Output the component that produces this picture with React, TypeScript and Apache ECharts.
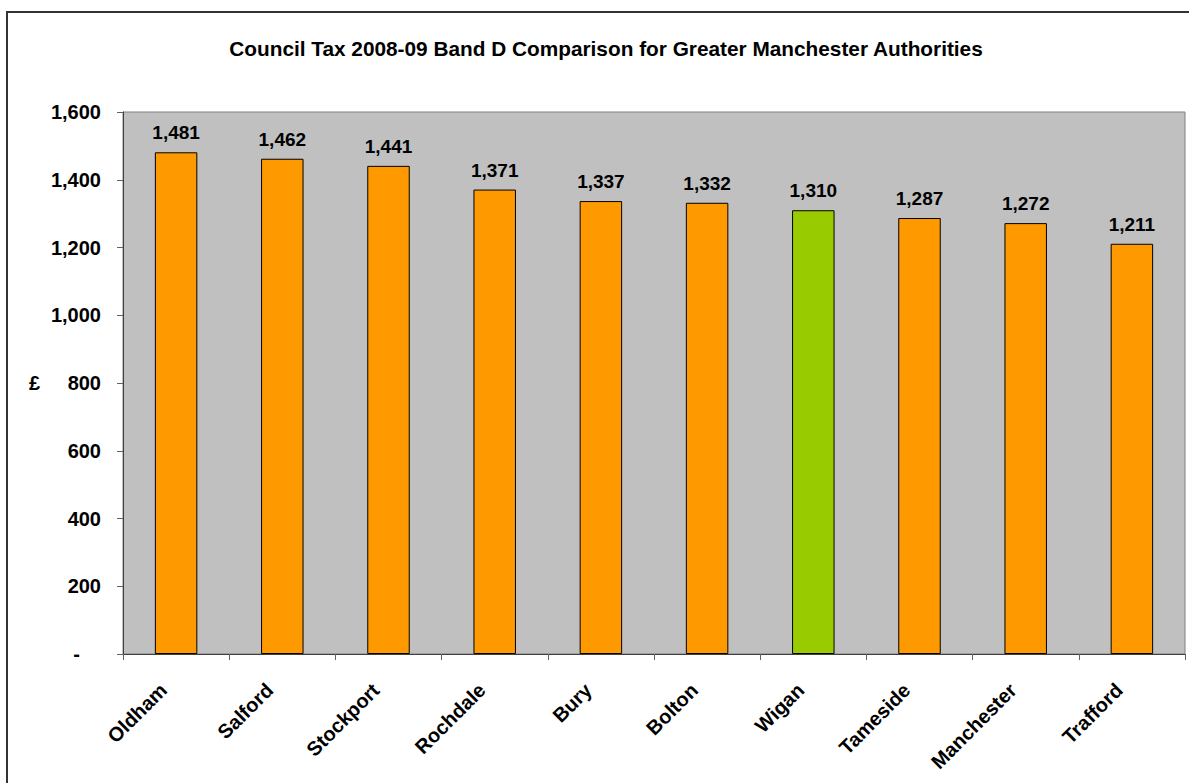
import React, { useEffect, useRef } from "react";
import * as echarts from "echarts";

const categories = ["Oldham", "Salford", "Stockport", "Rochdale", "Bury", "Bolton", "Wigan", "Tameside", "Manchester", "Trafford"];
const values = [1481, 1462, 1441, 1371, 1337, 1332, 1310, 1287, 1272, 1211];
const highlight = "Wigan";
const titleText = "Council Tax 2008-09 Band D Comparison for Greater Manchester Authorities";
const yAxisName = "£";

const FONT = "'Liberation Sans', Arial, sans-serif";

export default function App() {
  const ref = useRef<HTMLDivElement>(null);
  useEffect(() => {
    const chart = echarts.init(ref.current!, null, { renderer: "svg" });
    chart.setOption({
      animation: false,
      backgroundColor: "#ffffff",
      textStyle: { fontFamily: FONT },
      title: {
        text: titleText,
        left: 601,
        top: 33,
        textAlign: "center",
        textStyle: { fontFamily: FONT, fontSize: 20.8, fontWeight: "bold", color: "#000" },
      },
      graphic: [
        {
          type: "rect",
          shape: { x: 7, y: 12, width: 1250, height: 850 },
          style: { fill: "none", stroke: "#333", lineWidth: 2 },
          silent: true,
        },
      ],
      grid: {
        left: 123,
        top: 112,
        right: 4,
        bottom: 129,
        show: true,
        backgroundColor: "#C0C0C0",
        borderColor: "#808080",
        borderWidth: 1,
      },
      xAxis: {
        type: "category",
        data: categories,
        axisLine: { show: true, lineStyle: { color: "#404040", width: 1 } },
        axisTick: { show: true, length: 6, lineStyle: { color: "#606060" } },
        axisLabel: {
          rotate: 45,
          margin: 20,
          padding: [0, 18, 0, 0],
          interval: 0,
          fontFamily: FONT,
          fontSize: 20,
          fontWeight: "bold",
          color: "#000",
        },
      },
      yAxis: {
        type: "value",
        min: 0,
        max: 1600,
        interval: 200,
        name: yAxisName,
        nameLocation: "middle",
        nameGap: 83,
        nameRotate: 0,
        nameTextStyle: { fontFamily: FONT, fontSize: 20, fontWeight: "bold", color: "#000" },
        splitLine: { show: false },
        axisLine: { show: true, lineStyle: { color: "#404040", width: 1 } },
        axisTick: { show: true, length: 6, lineStyle: { color: "#606060" } },
        axisLabel: {
          margin: 22,
          fontFamily: FONT,
          fontSize: 20,
          fontWeight: "bold",
          color: "#000",
          formatter: (v: number) => (v === 0 ? "{dash|-}" : v.toLocaleString("en-GB")),
          rich: {
            dash: { fontFamily: FONT, fontSize: 20, fontWeight: "bold", color: "#000", padding: [0, 21, 0, 0] },
          },
        },
      },
      series: [
        {
          type: "bar",
          barWidth: "40%",
          data: values.map((v, i) => ({
            value: v,
            itemStyle: {
              color: categories[i] === highlight ? "#99CC00" : "#FF9900",
              borderColor: "#000",
              borderWidth: 1,
            },
          })),
          label: {
            show: true,
            position: "top",
            distance: 10,
            fontFamily: FONT,
            fontSize: 19,
            fontWeight: "bold",
            color: "#000",
            formatter: (p: any) => Number(p.value).toLocaleString("en-GB"),
          },
        },
      ],
    });
    return () => chart.dispose();
  }, []);
  return <div ref={ref} style={{ position: "fixed", left: 0, top: 0, width: 1189, height: 783 }} />;
}
